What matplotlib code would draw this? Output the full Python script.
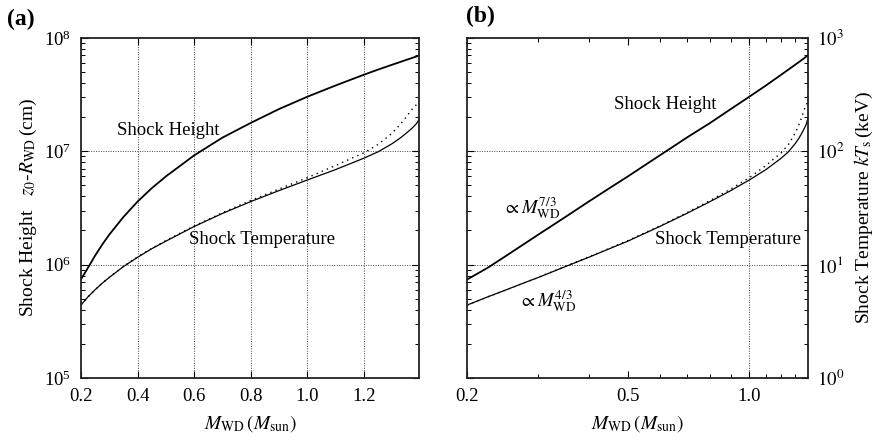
import numpy as np
import matplotlib
matplotlib.use('Agg')
import matplotlib.pyplot as plt
from matplotlib.ticker import FixedLocator, NullFormatter, FuncFormatter, LogLocator

plt.rcParams['font.family'] = ['Liberation Serif', 'DejaVu Serif']
plt.rcParams['mathtext.fontset'] = 'stix'

# white dwarf mass (M_sun)
mass = [0.2, 0.225, 0.25, 0.275, 0.3, 0.35, 0.4, 0.45, 0.5, 0.6, 0.7, 0.8, 0.9,
        1.0, 1.1, 1.2, 1.25, 1.3, 1.33, 1.35, 1.37, 1.385, 1.395]
# shock height z0-R_WD (cm)
height = [7.4e5, 9.4e5, 1.2e6, 1.5e6, 1.84e6, 2.63e6, 3.6e6, 4.72e6, 6.0e6, 9.2e6,
          1.32e7, 1.78e7, 2.36e7, 3.03e7, 3.81e7, 4.74e7, 5.26e7, 5.81e7, 6.16e7,
          6.41e7, 6.66e7, 6.86e7, 7.0e7]
# shock temperature (keV, shown as 1e5 cm = 1 keV on the shared axis)
temp = [4.4, 5.2, 6.0, 6.85, 7.7, 9.6, 11.6, 13.8, 16.1, 21.7, 28.3, 36.0, 45.0,
        55.8, 69.0, 87.0, 99.0, 117.0, 132.0, 145.0, 160.0, 175.0, 192.0]
temp_approx = [4.4, 5.2, 6.0, 6.85, 7.72, 9.65, 11.7, 13.9, 16.3, 21.9, 28.7, 36.8,
               46.5, 58.5, 75.0, 97.0, 115.0, 145.0, 175.0, 202.0, 235.0, 258.0, 275.0]

temp_cm = [t * 1e5 for t in temp]
temp_approx_cm = [t * 1e5 for t in temp_approx]

fig = plt.figure(figsize=(8.8, 4.41), dpi=100)
ax1 = fig.add_axes([0.092, 0.143, 0.3844, 0.771])
ax2 = fig.add_axes([0.531, 0.143, 0.3868, 0.771])

fs = 13.5
for ax in (ax1, ax2):
    ax.plot(mass, height, color='k', lw=1.3)
    ax.plot(mass, temp_approx_cm, color='k', lw=1.0, ls=(0, (1, 3)))
    ax.plot(mass, temp_cm, color='k', lw=0.9)
    ax.set_yscale('log')
    ax.set_ylim(1e5, 1e8)
    ax.yaxis.set_minor_locator(LogLocator(base=10, subs=np.arange(2, 10)))
    ax.yaxis.set_minor_formatter(NullFormatter())
    ax.tick_params(which='both', direction='in', top=True, right=True, labelsize=fs, pad=7)
    ax.tick_params(which='major', length=5, width=0.8)
    ax.tick_params(which='minor', length=3, width=0.7)
    for s in ax.spines.values():
        s.set_linewidth(1.3)
        s.set_color('#222222')
    for yg in (1e6, 1e7):
        ax.axhline(yg, color='#444444', lw=0.7, ls=(0, (1, 1.5)), zorder=0)

# panel (a): linear mass axis
ax1.set_xlim(0.2, 1.395)
ax1.set_xticks([0.2, 0.4, 0.6, 0.8, 1.0, 1.2])
ax1.set_xticklabels(['0.2', '0.4', '0.6', '0.8', '1.0', '1.2'])
for xg in (0.4, 0.6, 0.8, 1.0, 1.2):
    ax1.axvline(xg, color='#444444', lw=0.7, ls=(0, (1, 1.5)), zorder=0)
ax1.set_xlabel(r'$M_{\rm WD}\,(M_{\rm sun})$', fontsize=fs + 0.5, labelpad=6)
ax1.set_ylabel(r'Shock Height   $z_0$-$R_{\rm WD}\,$(cm)', fontsize=fs + 0.5, labelpad=4)
ax1.text(0.257, 0.729, 'Shock Height', transform=ax1.transAxes, fontsize=fs,
         ha='center', va='center')
ax1.text(0.536, 0.406, 'Shock Temperature', transform=ax1.transAxes, fontsize=fs,
         ha='center', va='center')

# panel (b): log mass axis, temperature labels on the right
ax2.set_xscale('log')
ax2.set_xlim(0.2, 1.395)
ax2.xaxis.set_major_locator(FixedLocator([0.2, 0.5, 1.0]))
ax2.xaxis.set_major_formatter(FuncFormatter(lambda v, p: f'{v:.1f}'))
ax2.xaxis.set_minor_locator(FixedLocator([0.3, 0.4, 0.6, 0.7, 0.8, 0.9, 1.1, 1.2, 1.3]))
ax2.xaxis.set_minor_formatter(NullFormatter())
ax2.axvline(1.0, color='#444444', lw=0.7, ls=(0, (1, 1.5)), zorder=0)
ax2.tick_params(axis='y', which='both', labelleft=False, labelright=True)
ax2.yaxis.set_major_formatter(FuncFormatter(
    lambda v, p: r'$10^{%d}$' % (int(round(np.log10(v))) - 5)))
ax2.yaxis.set_label_position('right')
ax2.set_ylabel(r'Shock Temperature $kT_{\rm s}\,$(keV)', fontsize=fs + 0.5, labelpad=6)
ax2.set_xlabel(r'$M_{\rm WD}\,(M_{\rm sun})$', fontsize=fs + 0.5, labelpad=6)
ax2.text(0.581, 0.805, 'Shock Height', transform=ax2.transAxes, fontsize=fs,
         ha='center', va='center')
ax2.text(0.765, 0.406, 'Shock Temperature', transform=ax2.transAxes, fontsize=fs,
         ha='center', va='center')
ax2.text(0.189, 0.499, r'$\propto M_{\rm WD}^{7/3}$', transform=ax2.transAxes,
         fontsize=fs, ha='center', va='center')
ax2.text(0.236, 0.225, r'$\propto M_{\rm WD}^{4/3}$', transform=ax2.transAxes,
         fontsize=fs, ha='center', va='center')

fig.text(0.008, 0.957, '(a)', fontsize=17, fontweight='bold', va='center')
fig.text(0.529, 0.962, '(b)', fontsize=17, fontweight='bold', va='center')

fig.savefig('out.png', dpi=100)
